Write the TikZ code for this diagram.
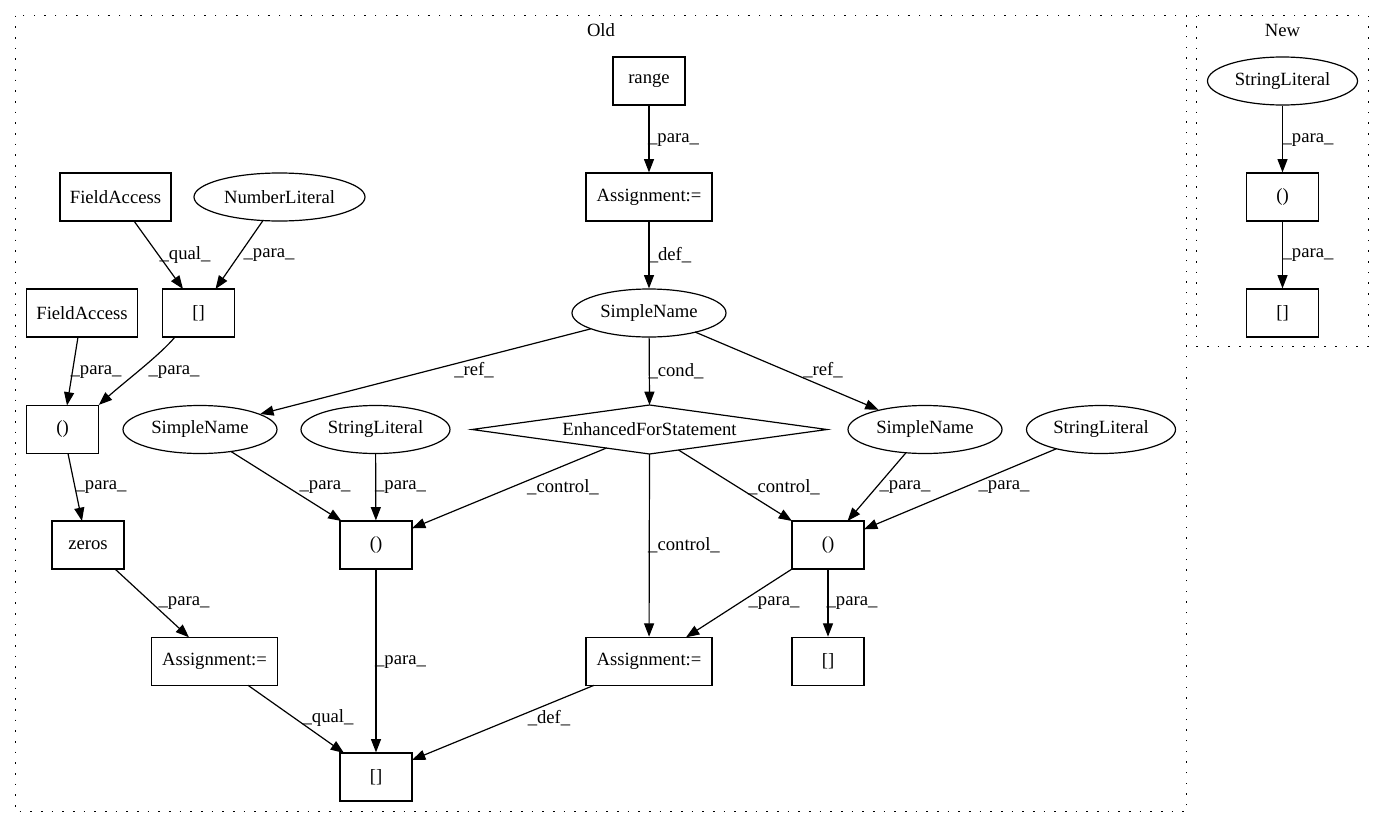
\documentclass[tikz,border=0pt]{standalone}
\usepackage{fontspec}
\setmainfont{Liberation Serif}
\usetikzlibrary{shapes.geometric,arrows.meta,calc}
\begin{document}
\begin{tikzpicture}[x=0.75pt,y=-0.75pt,
  every node/.style={font=\fontsize{14}{16}\selectfont},
  box/.style={draw, line width=0.9pt, rectangle, minimum height=36pt, inner sep=0pt},
  oval/.style={draw, line width=0.9pt, ellipse, minimum height=36pt, inner sep=0pt},
  edge/.style={draw, line width=0.9pt, -{Triangle[length=10pt,width=7.5pt]}},
  lbl/.style={inner sep=0pt},
  cluster/.style={draw, line width=1pt, dash pattern=on 1.2pt off 6.8pt}]
\useasboundingbox (0,0) rectangle (1384,828);
% clusters
\draw[cluster] (15.6,15.7) rectangle (1186.7,811.7);
\draw[cluster] (1196.7,15.7) rectangle (1368.3,346.7);
\node[lbl] (oldlbl) at (601,30) {Old};
\node[lbl] (newlbl) at (1282.5,30) {New};
% Old nodes
\node[box, minimum width=54pt] (range) at (649,81) {range};
\node[box, minimum width=94.5pt] (asg0) at (649,197) {Assignment:=};
\node[oval, minimum width=115.5pt] (sn0) at (649,313) {SimpleName};
\node[box, minimum width=83.25pt] (fa1) at (115.5,197) {FieldAccess};
\node[oval, minimum width=128.25pt] (num) at (279.5,197) {NumberLiteral};
\node[box, minimum width=53.5pt] (br0) at (198.5,313) {[]};
\node[box, minimum width=83pt] (fa2) at (82,313) {FieldAccess};
\node[box, minimum width=53.5pt] (pl) at (62.5,429.5) {()};
\node[oval, minimum width=115.5pt] (sn1) at (200,429.5) {SimpleName};
\node[oval, minimum width=111.75pt] (sl1) at (375.5,429.5) {StringLiteral};
\node[lbl] (efs) at (649.5,429.5) {EnhancedForStatement};
\draw[line width=0.9pt] ($(efs)+(-177.5,0)$) -- ($(efs)+(0,-24.5)$) -- ($(efs)+(177.5,0)$) -- ($(efs)+(0,24.5)$) -- cycle;
\node[oval, minimum width=115.5pt] (sn2) at (925,429.5) {SimpleName};
\node[oval, minimum width=111.75pt] (sl2) at (1101,429.5) {StringLiteral};
\node[box, minimum width=54pt] (zeros) at (88,545) {zeros};
\node[box, minimum width=54pt] (pm) at (376,545) {()};
\node[box, minimum width=54pt] (pr) at (828,545) {()};
\node[box, minimum width=94.5pt] (asg1) at (214.5,661.3) {Assignment:=};
\node[box, minimum width=94.5pt] (asg2) at (649,661.3) {Assignment:=};
\node[box, minimum width=54pt] (br2) at (828,661.3) {[]};
\node[box, minimum width=54pt] (br1) at (376,777) {[]};
% New nodes
\node[oval, minimum width=112.5pt] (nsl) at (1282.5,81) {StringLiteral};
\node[box, minimum width=54pt] (np) at (1282.5,197) {()};
\node[box, minimum width=54pt] (nbr) at (1282.5,313) {[]};
% edges
\draw[edge] (range) -- (asg0);
\draw[edge] (asg0) -- (sn0);
\draw[edge] (sn0) -- ($(efs)+(0,-24.5)$);
\draw[edge] ($(sn0)+(-58,15.8)$) -- (sn1);
\draw[edge] ($(sn0)+(46,19)$) -- (sn2);
\draw[edge] ($(fa1)+(18.5,24)$) -- ($(br0)+(-15.5,-24)$);
\draw[edge] ($(num)+(-16.5,23.5)$) -- ($(br0)+(17,-24)$);
\draw[edge] ($(fa2)+(-4,24)$) -- ($(pl)+(4.5,-24)$);
\draw[edge] ($(br0)+(-23.5,24)$) .. controls +(-15,18) and +(27,-24) .. (pl.north east);
\draw[edge] ($(pl)+(5.5,24)$) -- ($(zeros)+(-6,-24)$);
\draw[edge] ($(zeros)+(27,24)$) -- ($(asg1)+(-25.5,-24)$);
\draw[edge] ($(asg1)+(33.5,24)$) -- ($(br1)+(-32,-24)$);
\draw[edge] (pm) -- (br1);
\draw[edge] ($(sn1)+(31,22)$) -- ($(pm)+(-34.5,-24)$);
\draw[edge] (sl1) -- (pm);
\draw[edge] ($(efs)+(-43,18.5)$) -- ($(pm)+(36,-16.7)$);
\draw[edge] ($(efs)+(0,24.5)$) -- (asg2);
\draw[edge] ($(efs)+(29,20.5)$) -- ($(pr)+(-36,-24)$);
\draw[edge] ($(sn2)+(-19,23.2)$) -- ($(pr)+(19.5,-24)$);
\draw[edge] ($(sl2)+(-44.5,19.2)$) -- ($(pr)+(36,-15.7)$);
\draw[edge] ($(pr)+(-36,24)$) -- ($(asg2)+(37,-24)$);
\draw[edge] (pr) -- (br2);
\draw[edge] ($(asg2)+(-55,24)$) -- ($(br1)+(36,-17)$);
\draw[edge] (nsl) -- (np);
\draw[edge] (np) -- (nbr);
% edge labels
\node[lbl] (l1) at (673.5,140) {\_para\_};
\node[lbl] (l2) at (670,255) {\_def\_};
\node[lbl] (l3) at (676,371) {\_cond\_};
\node[lbl] (l4) at (474,370) {\_ref\_};
\node[lbl] (l5) at (823,370) {\_ref\_};
\node[lbl] (l6) at (185,255) {\_qual\_};
\node[lbl] (l7) at (269,255) {\_para\_};
\node[lbl] (l8) at (96,372) {\_para\_};
\node[lbl] (l9) at (174,372) {\_para\_};
\node[lbl] (l10) at (101,487.3) {\_para\_};
\node[lbl] (l11) at (184,603.3) {\_para\_};
\node[lbl] (l12) at (328,718.3) {\_qual\_};
\node[lbl] (l13) at (400.5,661.7) {\_para\_};
\node[lbl] (l14) at (325,487.3) {\_para\_};
\node[lbl] (l15) at (400.5,487.3) {\_para\_};
\node[lbl] (l16) at (563,487.3) {\_control\_};
\node[lbl] (l17) at (684,545) {\_control\_};
\node[lbl] (l18) at (784,487.3) {\_control\_};
\node[lbl] (l19) at (905,487.3) {\_para\_};
\node[lbl] (l20) at (1004,487.3) {\_para\_};
\node[lbl] (l21) at (774,603.3) {\_para\_};
\node[lbl] (l22) at (852,603.3) {\_para\_};
\node[lbl] (l23) at (549,718.3) {\_def\_};
\node[lbl] (l24) at (1308,140) {\_para\_};
\node[lbl] (l25) at (1308,255) {\_para\_};
\end{tikzpicture}
\end{document}
